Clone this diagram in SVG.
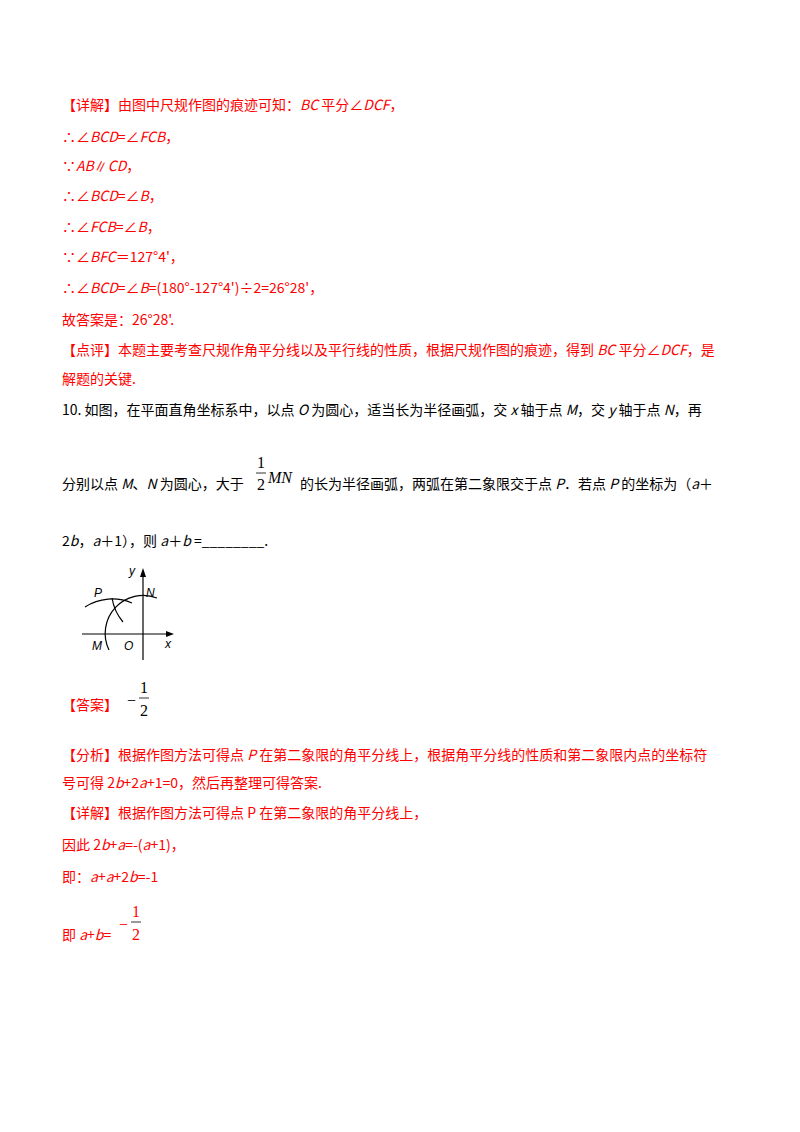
<svg xmlns="http://www.w3.org/2000/svg" width="800" height="1132" viewBox="0 0 800 1132">
<style>
text{font-family:"Noto Sans CJK SC","Noto Sans",sans-serif;font-size:14px}
.r{fill:#ff0000}
.k{fill:#000}
.i{font-style:italic}
.s{font-family:"Liberation Serif","Noto Sans CJK SC",serif;font-size:16px}
.l{stroke:#000;fill:none;stroke-width:1.2}
</style>
<rect width="800" height="1132" fill="#fff"/>
<g id="solution9" class="r">
<text x="62" y="110" class="r">【详解】由图中尺规作图的痕迹可知：<tspan class="i">BC</tspan> 平分∠<tspan class="i">DCF</tspan>，</text>
<text x="62" y="142" class="r">∴∠<tspan class="i">BCD</tspan>=∠<tspan class="i">FCB</tspan>，</text>
<text x="62" y="171" class="r">∵<tspan class="i">AB</tspan>∥<tspan class="i">CD</tspan>，</text>
<text x="62" y="201" class="r">∴∠<tspan class="i">BCD</tspan>=∠<tspan class="i">B</tspan>，</text>
<text x="62" y="232" class="r">∴∠<tspan class="i">FCB</tspan>=∠<tspan class="i">B</tspan>，</text>
<text x="62" y="262" class="r">∵∠<tspan class="i">BFC</tspan>＝127°4'，</text>
<text x="62" y="293" class="r">∴∠<tspan class="i">BCD</tspan>=∠<tspan class="i">B</tspan>=(180°-127°4')÷2=26°28'，</text>
<text x="62" y="325" class="r">故答案是：26°28'.</text>
<text x="62" y="355" class="r">【点评】本题主要考查尺规作角平分线以及平行线的性质，根据尺规作图的痕迹，得到 <tspan class="i">BC</tspan> 平分∠<tspan class="i">DCF</tspan>，是</text>
<text x="62" y="384" class="r">解题的关键.</text>
</g>
<g id="question10" class="k">
<text x="62" y="415">10. 如图，在平面直角坐标系中，以点 <tspan class="i">O</tspan> 为圆心，适当长为半径画弧，交 <tspan class="i">x</tspan> 轴于点 <tspan class="i">M</tspan>，交 <tspan class="i">y</tspan> 轴于点 <tspan class="i">N</tspan>，再</text>
<text x="62" y="489">分别以点 <tspan class="i">M</tspan>、<tspan class="i">N</tspan> 为圆心，大于</text>
<text x="257" y="468" class="s">1</text>
<line x1="256" y1="473" x2="266" y2="473" stroke="#000" stroke-width="0.8"/>
<text x="257" y="490" class="s">2</text>
<text x="268" y="483" class="s i">MN</text>
<text x="300" y="489">的长为半径画弧，两弧在第二象限交于点 <tspan class="i">P</tspan>．若点 <tspan class="i">P</tspan> 的坐标为（<tspan class="i">a</tspan>＋</text>
<text x="62" y="546">2<tspan class="i">b</tspan>，<tspan class="i">a</tspan>＋1），则 <tspan class="i">a</tspan>＋<tspan class="i">b</tspan> =________.</text>
</g>
<g id="figure">
<line class="l" x1="82" y1="634" x2="170" y2="634"/>
<polygon points="174,634 166,631 166,637" fill="#000"/>
<line class="l" x1="143" y1="660" x2="143" y2="574"/>
<polygon points="143,568 140,577 146,577" fill="#000"/>
<path class="l" d="M109,650 A38,38 0 0 1 157,598"/>
<path class="l" d="M85,607 A50,50 0 0 1 132,603"/>
<path class="l" d="M112,598 A50,50 0 0 0 123,622"/>
<text x="129" y="575" style="font-family:'Liberation Sans',sans-serif;font-style:italic;font-size:12px">y</text>
<text x="146" y="597" style="font-family:'Liberation Sans',sans-serif;font-style:italic;font-size:12px">N</text>
<text x="94" y="597" style="font-family:'Liberation Sans',sans-serif;font-style:italic;font-size:12px">P</text>
<text x="92" y="650" style="font-family:'Liberation Sans',sans-serif;font-style:italic;font-size:12px">M</text>
<text x="124" y="650" style="font-family:'Liberation Sans',sans-serif;font-style:italic;font-size:12px">O</text>
<text x="165" y="648" style="font-family:'Liberation Sans',sans-serif;font-style:italic;font-size:12px">x</text>
</g>
<g id="answer">
<text x="62" y="710" class="r">【答案】</text>
<text x="127" y="706" class="s">−</text>
<text x="140" y="693" class="s">1</text>
<line x1="139" y1="698" x2="149" y2="698" stroke="#000" stroke-width="0.8"/>
<text x="140" y="716" class="s">2</text>
</g>
<g id="analysis" class="r">
<text x="62" y="760" class="r">【分析】根据作图方法可得点 <tspan class="i">P</tspan> 在第二象限的角平分线上，根据角平分线的性质和第二象限内点的坐标符</text>
<text x="62" y="788" class="r">号可得 2<tspan class="i">b</tspan>+2<tspan class="i">a</tspan>+1=0，然后再整理可得答案.</text>
<text x="62" y="818" class="r">【详解】根据作图方法可得点 P 在第二象限的角平分线上，</text>
<text x="62" y="850" class="r">因此 2<tspan class="i">b</tspan>+<tspan class="i">a</tspan>=-(<tspan class="i">a</tspan>+1)，</text>
<text x="62" y="882" class="r">即：<tspan class="i">a</tspan>+<tspan class="i">a</tspan>+2<tspan class="i">b</tspan>=-1</text>
<text x="62" y="940" class="r">即 <tspan class="i">a</tspan>+<tspan class="i">b</tspan>=</text>
<text x="119" y="930" class="s">−</text>
<text x="132" y="917" class="s">1</text>
<line x1="131" y1="922" x2="141" y2="922" stroke="#000" stroke-width="0.8"/>
<text x="132" y="940" class="s">2</text>
</g>
</svg>
